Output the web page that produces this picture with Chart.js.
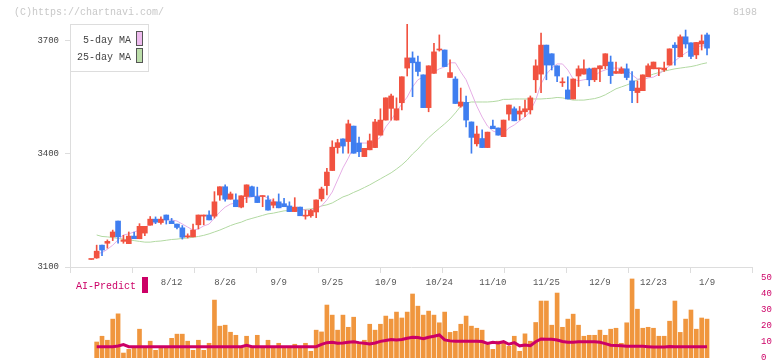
<!DOCTYPE html>
<html>
<head>
<meta charset="utf-8">
<script src="https://cdn.jsdelivr.net/npm/chart.js@4.4.1/dist/chart.umd.min.js"></script>
<style>
  html, body { margin: 0; padding: 0; background: #fff; }
  #wrap { position: relative; width: 772px; height: 361px; overflow: hidden; }
  #priceChart { position: absolute; left: 0; top: 0; }
  #aiChart { position: absolute; left: 0; top: 270px; }
</style>
</head>
<body>
<div id="wrap">
  <canvas id="priceChart" width="772" height="292"></canvas>
  <canvas id="aiChart" width="772" height="91"></canvas>
</div>
<script>
// daily candles, oldest first (index 115 = 1/9)
const opens = [3120,3124,3158,3163,3180,3222,3168,3162,3182,3175,3190,3211,3227,3218,3238,3222,3214,3204,3180,3180,
  3212,3235,3238,3235,3291,3313,3280,3278,3259,3287,3313,3287,3287,3278,3264,3273,3268,3262,3247,3259,
  3235,3236,3246,3281,3316,3356,3417,3440,3433,3474,3429,3393,3411,3417,3450,3490,3521,3490,3536,3628,
  3655,3644,3610,3523,3614,3676,3676,3603,3599,3527,3537,3485,3427,3441,3417,3474,3469,3446,3506,3520,
  3506,3512,3517,3597,3612,3689,3666,3634,3589,3570,3546,3607,3612,3626,3597,3626,3634,3644,3614,3614,
  3626,3594,3563,3568,3605,3626,3626,3623,3636,3689,3658,3711,3695,3663,3692,3716];
const highs = [3120,3158,3158,3172,3198,3222,3184,3193,3193,3215,3208,3234,3233,3233,3238,3229,3214,3210,3188,3214,
  3238,3238,3249,3300,3313,3318,3299,3294,3289,3318,3315,3312,3289,3289,3281,3294,3282,3273,3284,3259,
  3251,3253,3278,3312,3362,3435,3439,3440,3490,3474,3445,3415,3453,3492,3520,3549,3559,3549,3605,3745,
  3671,3660,3610,3634,3694,3716,3676,3650,3605,3575,3554,3485,3474,3464,3458,3490,3469,3490,3530,3525,
  3526,3543,3554,3650,3721,3689,3666,3634,3602,3605,3599,3634,3650,3628,3628,3634,3666,3660,3644,3631,
  3639,3619,3594,3610,3639,3644,3628,3644,3679,3696,3716,3729,3695,3696,3716,3721];
const lows = [3120,3123,3130,3150,3170,3163,3163,3162,3175,3175,3183,3211,3215,3214,3214,3215,3201,3174,3177,3180,
  3201,3212,3225,3230,3277,3275,3280,3260,3257,3271,3287,3271,3260,3251,3257,3257,3260,3247,3247,3236,
  3227,3232,3231,3275,3291,3356,3402,3402,3402,3402,3393,3393,3411,3417,3450,3490,3490,3490,3517,3607,
  3552,3607,3523,3512,3614,3673,3632,3603,3534,3524,3472,3402,3421,3417,3417,3467,3450,3446,3490,3488,
  3490,3499,3506,3563,3563,3597,3623,3592,3579,3546,3546,3579,3612,3581,3592,3592,3626,3587,3614,3614,
  3597,3536,3536,3568,3605,3626,3608,3619,3636,3636,3658,3681,3653,3653,3676,3663];
const closes = [3120,3142,3145,3168,3193,3180,3172,3182,3175,3208,3208,3227,3219,3227,3225,3215,3205,3179,3182,3198,
  3238,3238,3225,3273,3313,3280,3294,3260,3289,3318,3287,3271,3289,3251,3273,3257,3260,3247,3259,3236,
  3237,3250,3278,3307,3352,3418,3430,3421,3480,3402,3406,3415,3435,3485,3490,3549,3554,3520,3605,3655,
  3642,3619,3523,3634,3671,3678,3632,3616,3534,3538,3490,3444,3453,3417,3458,3467,3450,3490,3530,3488,
  3514,3520,3549,3634,3689,3636,3636,3607,3590,3546,3599,3626,3626,3597,3628,3634,3666,3608,3619,3626,
  3603,3568,3575,3610,3634,3644,3628,3628,3679,3682,3711,3692,3659,3696,3700,3681];

const ma5 = [null,3136,3138,3147,3158,3172,3185,3188,3193,3198,3206,3212,3219,3225,3225,3225,3222,3214,3206,3198,
  3201,3209,3214,3230,3246,3259,3267,3270,3278,3283,3286,3289,3289,3283,3275,3270,3265,3259,3257,3254,
  3251,3251,3254,3262,3278,3299,3331,3363,3389,3419,3429,3429,3429,3432,3445,3472,3490,3512,3533,3551,
  3578,3597,3604,3612,3618,3626,3631,3642,3642,3618,3597,3562,3527,3498,3474,3461,3456,3456,3469,3477,
  3488,3498,3514,3543,3586,3612,3628,3639,3639,3623,3599,3594,3597,3599,3607,3618,3623,3628,3628,3628,
  3623,3610,3599,3597,3602,3604,3612,3623,3634,3647,3658,3668,3676,3684,3687,3687];
const ma25 = [null,3185,3181,3180,3178,3176,3174,3172,3170,3168,3166,3166,3168,3169,3171,3173,3174,3176,3177,3179,
  3181,3184,3188,3193,3198,3204,3210,3215,3219,3225,3229,3233,3237,3241,3243,3246,3249,3250,3251,3251,
  3253,3254,3257,3262,3265,3270,3278,3286,3291,3298,3304,3311,3318,3326,3334,3342,3350,3360,3371,3384,
  3400,3413,3429,3443,3456,3468,3480,3493,3509,3527,3535,3538,3538,3538,3538,3539,3541,3545,3545,3546,
  3546,3546,3546,3546,3546,3547,3548,3550,3549,3546,3543,3543,3543,3545,3547,3551,3557,3565,3573,3578,
  3583,3589,3597,3602,3607,3612,3616,3620,3623,3626,3628,3630,3632,3635,3639,3642];

const aiBars = [null,10,13.6,11.1,24.3,27.6,3.1,5.4,7.3,18,7.3,10.5,4.8,7.3,7.3,12.3,14.9,14.9,10.5,4.8,
  11.1,4.8,9.2,36.2,19.9,20.5,16.1,14.2,7.3,13.6,7.3,14.2,7.3,11.1,7.3,9.2,7.3,7.3,8.6,7.3,
  9.2,4.2,17.4,16.3,33.1,26.8,17.4,26.8,19.2,25.5,9.8,11.1,21.1,17.4,21.1,26.2,24.3,28.7,25,28.7,
  40,32.4,26.8,29.3,26.8,22,28.7,16,16.7,21.1,26.2,19.9,18.6,17.4,8.4,5.4,10.5,10,7.3,13.6,
  4.2,15.1,10.5,22.2,35.6,35.6,20.5,40.6,19.2,24.3,27.4,20.5,13.6,14.2,14.2,17.4,14.2,18,18.6,9.2,
  22,49.4,30.5,18.6,19.2,18.6,13.6,13.6,23,35.6,16,24.3,30,18,25,24.3];
const aiLine = [null,7.1,7.1,7.1,7.1,7.5,8.4,7.1,7.1,7.1,7.1,7.1,7.1,7.1,7.1,7.1,7.1,7.1,7.1,7.1,
  7.1,7.1,7.1,7.1,7.1,7.1,7.1,7.1,7.1,8.0,7.1,7.1,7.1,7.1,7.1,7.1,7.1,7.1,7.1,7.1,
  7.1,7.1,7.1,8.5,9.6,9.8,9.2,9.4,9.8,10.2,9.6,9.2,8.8,9.4,10.4,11,11.5,11.3,11.6,12.3,
  13,12.8,12.1,13,13.6,14.4,11.3,10.7,10.5,10.5,10.5,10.5,10.5,10.3,9.1,9.8,9.4,10.2,8.6,9.6,
  7.6,8.1,7.7,10.2,11.9,11.7,11.7,11.2,10.3,9.8,9.9,10.2,10.2,10.2,10.2,9.8,9.0,8.0,7.8,7.6,
  7.3,7.3,7.3,7.3,7.1,6.9,6.9,6.9,7.2,7.1,7.1,7.1,7.1,7.1,7.1,7.1];

// x-axis date labels, one every 10 sessions starting at index 15
const dateLabels = ['8/12','8/26','9/9','9/25','10/9','10/24','11/10','11/25','12/9','12/23','1/9'];
const firstLabelAt = 15;
const priceTicks = [3100, 3400, 3700];
const aiTicks = [0, 10, 20, 30, 40, 50];
const gridMarks = [0, 1, 2, 3, 4, 5, 6, 7, 8, 9, 10, 11];

const UP = '#f15240';
const DOWN = '#3f7ef0';
const MONO = '"Liberation Mono", "DejaVu Sans Mono", monospace';

const candleColor = (i) => closes[i] >= opens[i] ? UP : DOWN;
const pts = (arr) => arr.map((v, i) => v === null ? null : { x: i, y: v }).filter(p => p);

// shared x range (index units) so both panels line up
const X_MIN = -3.98, X_MAX = 123.4;

function noPad(s) { s.paddingTop = 0; s.paddingBottom = 0; s.paddingLeft = 0; s.paddingRight = 0; }

// watermark, code and the MA legend box
const priceText = {
  id: 'priceText',
  afterDraw(chart) {
    const ctx = chart.ctx;
    ctx.save();
    ctx.font = '10px ' + MONO;
    ctx.textBaseline = 'middle';
    ctx.fillStyle = '#c8c8c8';
    ctx.textAlign = 'left';
    ctx.fillText('(C)https://chartnavi.com/', 14, 12);
    ctx.textAlign = 'right';
    ctx.fillText('8198', 757, 12);

    const items = chart.data.datasets.filter(d => d.type === 'line');
    ctx.fillStyle = '#fff';
    ctx.fillRect(70.5, 24.5, 78, 47);
    ctx.strokeStyle = '#dddddd';
    ctx.lineWidth = 1;
    ctx.strokeRect(70.5, 24.5, 78, 47);
    items.forEach((d, k) => {
      const y = 40 + k * 17;
      ctx.fillStyle = '#444';
      ctx.textAlign = 'right';
      ctx.fillText(d.label, 131, y);
      ctx.fillStyle = d.backgroundColor;
      ctx.fillRect(136.5, y - 8.5, 6, 14);
      ctx.strokeStyle = '#555';
      ctx.strokeRect(136.5, y - 8.5, 6, 14);
    });
    ctx.restore();
  }
};

new Chart(document.getElementById('priceChart'), {
  type: 'bar',
  data: {
    datasets: [
      {
        type: 'line', label: '5-day MA', data: pts(ma5), order: 3,
        borderColor: '#e6aee6', backgroundColor: '#eebbee', borderWidth: 1,
        pointRadius: 0, tension: 0, xAxisID: 'x', yAxisID: 'y'
      },
      {
        type: 'line', label: '25-day MA', data: pts(ma25), order: 4,
        borderColor: '#b2d9a2', backgroundColor: '#bcdeaa', borderWidth: 1,
        pointRadius: 0, tension: 0, xAxisID: 'x', yAxisID: 'y'
      },
      {
        label: 'wick', data: lows.map((l, i) => ({ x: i, y: [l, highs[i]] })), order: 2,
        backgroundColor: lows.map((l, i) => candleColor(i)),
        barThickness: 1, grouped: false, borderWidth: 0, xAxisID: 'x', yAxisID: 'y'
      },
      {
        label: 'body', data: opens.map((o, i) => ({ x: i, y: [o, closes[i]] })), order: 1,
        backgroundColor: opens.map((o, i) => candleColor(i)),
        barThickness: 5, minBarLength: 1, grouped: false, borderWidth: 0, xAxisID: 'x', yAxisID: 'y'
      }
    ]
  },
  options: {
    responsive: false,
    animation: false,
    devicePixelRatio: 1,
    events: [],
    layout: { padding: { left: 0, right: 20, top: 24, bottom: 0 } },
    plugins: { legend: { display: false }, tooltip: { enabled: false } },
    scales: {
      xg: {
        type: 'linear', position: 'bottom', min: 0, max: 11, weight: 0,
        offset: false,
        ticks: { display: false },
        grid: { drawOnChartArea: false, offset: false, tickLength: 6, color: '#dddddd' },
        border: { color: '#dddddd' },
        afterBuildTicks: (s) => { s.ticks = gridMarks.map(v => ({ value: v })); },
        afterFit: (s) => { s.height = 6; noPad(s); }
      },
      x: {
        type: 'linear', position: 'bottom', min: X_MIN, max: X_MAX, weight: 1,
        offset: false,
        grid: { display: false, offset: false },
        border: { display: false },
        ticks: {
          autoSkip: false, maxRotation: 0, padding: -4, color: '#555',
          font: { family: MONO, size: 9 },
          callback: (v) => dateLabels[(v - firstLabelAt) / 10]
        },
        afterBuildTicks: (s) => { s.ticks = dateLabels.map((d, k) => ({ value: firstLabelAt + k * 10 })); },
        afterFit: (s) => { s.height = 19; noPad(s); }
      },
      y: {
        position: 'left', min: 3100, max: 3745,
        grid: { drawOnChartArea: false, tickLength: 5, color: '#dddddd' },
        border: { color: '#dddddd' },
        ticks: {
          padding: 6, color: '#444', font: { family: MONO, size: 9 },
          callback: (v) => String(v)
        },
        afterBuildTicks: (s) => { s.ticks = priceTicks.map(v => ({ value: v })); },
        afterFit: (s) => { s.width = 70; noPad(s); }
      }
    }
  },
  plugins: [priceText]
});

// "AI-Predict" caption with its swatch
const aiText = {
  id: 'aiText',
  afterDraw(chart) {
    const ctx = chart.ctx;
    const d = chart.data.datasets.find(ds => ds.type === 'line');
    ctx.save();
    ctx.font = '10px ' + MONO;
    ctx.textBaseline = 'middle';
    ctx.textAlign = 'left';
    ctx.fillStyle = d.borderColor;
    ctx.fillText(d.label, 76, 16);
    ctx.fillRect(142, 7, 6, 16);
    ctx.restore();
  }
};

new Chart(document.getElementById('aiChart'), {
  type: 'bar',
  data: {
    datasets: [
      {
        type: 'line', label: 'AI-Predict', data: pts(aiLine), order: 1,
        borderColor: '#cc0066', borderWidth: 3, pointRadius: 0, tension: 0,
        xAxisID: 'x', yAxisID: 'y'
      },
      {
        label: 'bars', data: pts(aiBars), order: 2,
        backgroundColor: '#f0963e', barThickness: 4, borderWidth: 0,
        xAxisID: 'x', yAxisID: 'y'
      }
    ]
  },
  options: {
    responsive: false,
    animation: false,
    devicePixelRatio: 1,
    events: [],
    layout: { padding: { left: 70, right: 0, top: 8, bottom: 3 } },
    plugins: { legend: { display: false }, tooltip: { enabled: false } },
    scales: {
      x: {
        type: 'linear', display: false, min: X_MIN, max: X_MAX, offset: false,
        grid: { offset: false }
      },
      y: {
        position: 'right', min: 0, max: 50,
        grid: { display: false },
        border: { display: false },
        ticks: { padding: 1, color: '#cc0066', font: { family: MONO, size: 9 } },
        afterBuildTicks: (s) => { s.ticks = aiTicks.map(v => ({ value: v })); },
        afterFit: (s) => { s.width = 20; noPad(s); }
      }
    }
  },
  plugins: [aiText]
});
</script>
</body>
</html>
